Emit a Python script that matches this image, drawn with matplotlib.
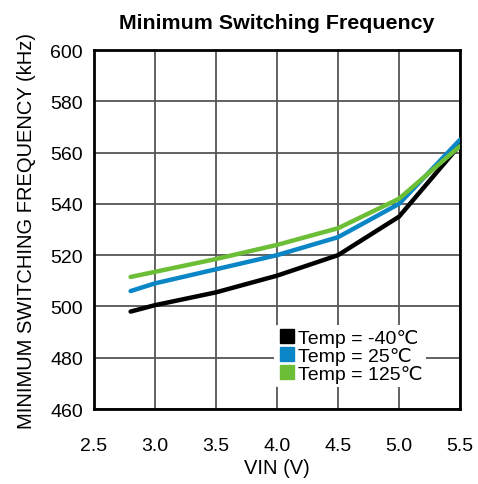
import matplotlib
matplotlib.use("Agg")
import matplotlib.pyplot as plt
from matplotlib.lines import Line2D

plt.rcParams['font.family'] = ['Liberation Sans', 'DejaVu Sans']

# Data
vin = [2.8, 3.0, 3.5, 4.0, 4.5, 5.0, 5.5]
freq_m40 = [498, 500.5, 505.5, 512, 520, 535, 563]
freq_25 = [506, 509, 514.5, 520, 527, 540, 565]
freq_125 = [511.5, 513.5, 518.5, 524, 530.5, 542, 562.5]
labels = ["Temp = -40\u2103", "Temp = 25\u2103", "Temp = 125\u2103"]
colors = ["#000000", "#0A86C6", "#6BBE35"]

fig = plt.figure(figsize=(4.78, 4.85), dpi=100)
ax = fig.add_axes([0.1967, 0.1546, 0.7656, 0.7402])

for y, c in zip([freq_m40, freq_25, freq_125], colors):
    ax.plot(vin, y, color=c, lw=3.2, solid_capstyle='round', zorder=3)

ax.set_xlim(2.5, 5.5)
ax.set_ylim(460, 600)
ax.set_xticks([2.5, 3.0, 3.5, 4.0, 4.5, 5.0, 5.5])
ax.set_yticks(range(460, 601, 20))
ax.grid(True, color="#555555", lw=1.3)
ax.tick_params(axis='x', length=0, labelsize=14, pad=20)
ax.tick_params(axis='y', length=0, labelsize=14, pad=8)
for s in ax.spines.values():
    s.set_linewidth(2)

ax.set_title("Minimum Switching Frequency", fontsize=15.4, fontweight='bold', pad=16)
ax.set_xlabel("VIN (V)", fontsize=14.5, labelpad=3)
ax.set_ylabel("MINIMUM SWITCHING FREQUENCY (kHz)", fontsize=14.5, labelpad=10)

handles = [Line2D([], [], marker='s', ls='none', color=c, markersize=10) for c in colors]
leg = ax.legend(handles, labels, loc='lower right', bbox_to_anchor=(0.935, 0.035),
                frameon=True, fontsize=14, handletextpad=0.05, labelspacing=0.0,
                borderpad=0.2, handlelength=1.0)
leg.get_frame().set_edgecolor('none')
leg.get_frame().set_facecolor('white')
leg.get_frame().set_alpha(1)

fig.savefig("out.png", dpi=100)
